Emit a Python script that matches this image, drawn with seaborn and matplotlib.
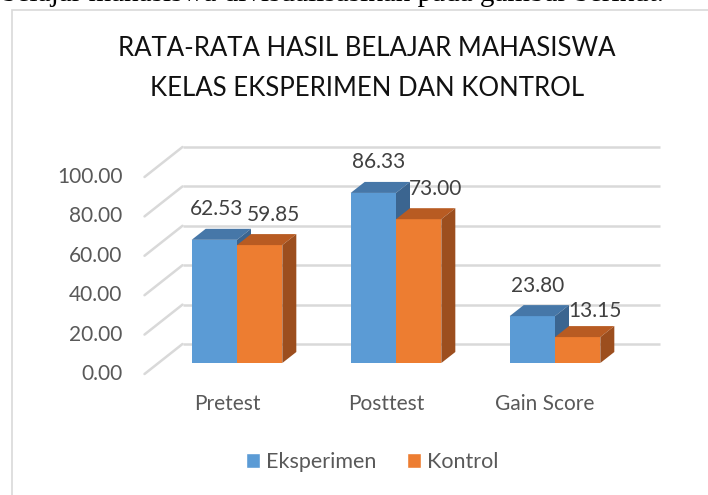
import pandas as pd
import matplotlib
matplotlib.use("Agg")
import matplotlib.pyplot as plt
from matplotlib.patches import Polygon, Rectangle
import seaborn as sns

# data
categories = ["Pretest", "Posttest", "Gain Score"]
groups = ["Eksperimen", "Kontrol"]
eksperimen = [62.53, 86.33, 23.80]
kontrol = [59.85, 73.00, 13.15]
y_ticks = [0, 20, 40, 60, 80, 100]

df = pd.DataFrame({
    "Tahap": categories * 2,
    "Kelas": [groups[0]] * 3 + [groups[1]] * 3,
    "Nilai": eksperimen + kontrol,
})

# colours: front, top, side
front = {"Eksperimen": "#5B9BD5", "Kontrol": "#ED7D31"}
top = {"Eksperimen": "#4677A8", "Kontrol": "#B85B22"}
side = {"Eksperimen": "#3B6590", "Kontrol": "#9C4E1E"}

sns.set_style("white")
plt.rcParams["font.family"] = ["Lato", "DejaVu Sans"]

W, H = 708, 495
fig = plt.figure(figsize=(W / 100, H / 100), dpi=100)

# axes = bar plane; 0 at pixel row 363, 100 at row 166
ax = fig.add_axes([157.5 / W, (H - 363) / H, 477 / W, 197 / H])
sns.barplot(data=df, x="Tahap", y="Nilai", hue="Kelas", order=categories,
            hue_order=groups, palette=front, width=0.57, saturation=1,
            legend=False, ax=ax)
ax.set_xlim(-0.5, 2.5)
ax.set_ylim(0, 100)
ax.axis("off")

# pixel -> data scale
(x0, y0), (x1, y1) = ax.transData.transform([(0, 0), (1, 1)])
sx, sy = x1 - x0, y1 - y0


def off(dx, dy):
    return dx / sx, dy / sy


# 3D box: front plane and back wall offsets from the bar plane (pixels)
fdx, fdy = off(-13, -11)
bdx, bdy = off(25, 19)
# bar depth
ddx, ddy = off(14, 11)

grid_c = "#D9D9D9"
for v in y_ticks:
    ax.plot([-0.5 + bdx, 2.5 + bdx], [v + bdy, v + bdy], color=grid_c,
            lw=1.8, clip_on=False, zorder=1, solid_capstyle="butt")
    ax.plot([-0.5 + fdx, -0.5 + bdx], [v + fdy, v + bdy], color=grid_c,
            lw=1.8, clip_on=False, zorder=1)
    lx, _ = off(-22, 0)
    ax.text(-0.5 + fdx + lx, v + fdy, f"{v:.2f}", ha="right", va="center",
            fontsize=15, color="#595959")

# draw top and side faces on each bar
for i, p in enumerate(ax.patches):
    grp = groups[i // len(categories)]
    z = 3 + i // len(categories)
    p.set_zorder(z)
    p.set_edgecolor("none")
    x, w, h = p.get_x(), p.get_width(), p.get_height()
    ax.add_patch(Polygon([(x, h), (x + w, h), (x + w + ddx, h + ddy), (x + ddx, h + ddy)],
                         closed=True, fc=top[grp], ec="none", zorder=z, clip_on=False))
    ax.add_patch(Polygon([(x + w, 0), (x + w, h), (x + w + ddx, h + ddy), (x + w + ddx, ddy)],
                         closed=True, fc=side[grp], ec="none", zorder=z, clip_on=False))

# value labels (pixel nudges as in the reference)
label_nudge = [(2, 31), (5, 31), (5, 30), (14, 30), (17, 30), (17, 26)]
for p, (ndx, ndy) in zip(ax.patches, label_nudge):
    x, w, h = p.get_x(), p.get_width(), p.get_height()
    dx, dy = off(ndx, ndy)
    ax.text(x + w / 2 + dx, h + dy, f"{h:.2f}", ha="center", va="center",
            fontsize=15, color="#404040", zorder=10)

# category labels
for i, c in enumerate(categories):
    dx, dy = off(-10, -41)
    ax.text(i + dx, dy, c, ha="center", va="center", fontsize=15, color="#595959")

fig.text(367 / W, 1 - 49 / H, "RATA-RATA HASIL BELAJAR MAHASISWA", ha="center",
         va="center", fontsize=18.5, color="#111111")
fig.text(367 / W, 1 - 88.5 / H, "KELAS EKSPERIMEN DAN KONTROL", ha="center",
         va="center", fontsize=18.5, color="#111111")

handles = [Rectangle((0, 0), 1, 1, fc=front[g]) for g in groups]
leg = fig.legend(handles, groups, loc="center", bbox_to_anchor=(372 / W, 1 - 462 / H),
                 ncol=2, frameon=False, fontsize=15.5, handlelength=0.65, handleheight=0.65,
                 handletextpad=0.3, columnspacing=1.4)
for t in leg.get_texts():
    t.set_color("#595959")

# chart border and the cut-off line of document text above it
fig.add_artist(Rectangle((11.5 / W, -0.1), 1.2, 1.1 - 10 / H, transform=fig.transFigure,
                         fill=False, ec="#D9D9D9", lw=1.2))
fig.text(2 / W, 1 - 1 / H, "belajar mahasiswa divisualisasikan pada gambar berikut.",
         ha="left", va="baseline", fontsize=21, family="Liberation Serif", color="black")

fig.savefig("out.png", dpi=100)
